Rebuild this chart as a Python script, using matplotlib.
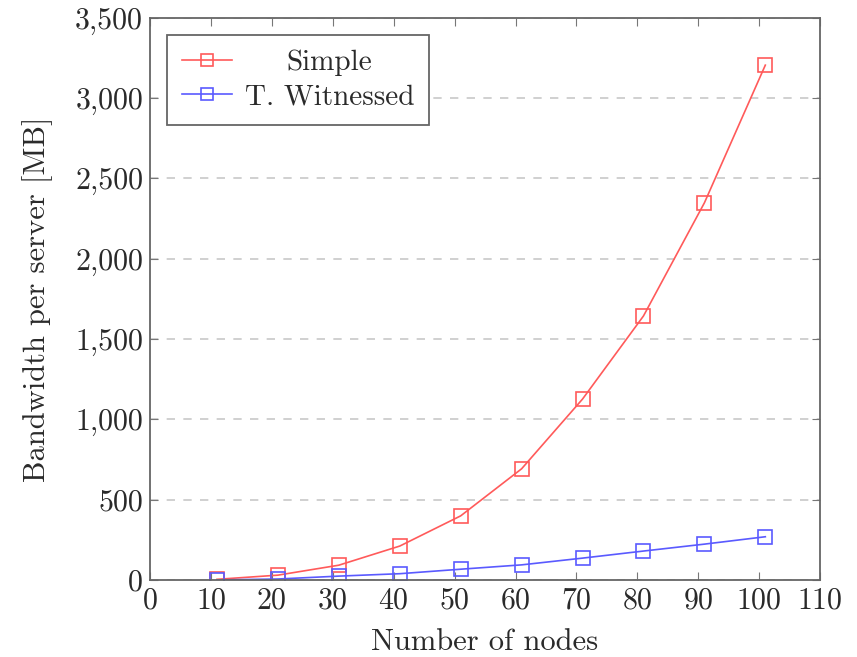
import numpy as np
import matplotlib
matplotlib.use('Agg')
import matplotlib.pyplot as plt

plt.rcParams['font.family'] = 'serif'
plt.rcParams['font.serif'] = ['cmr10']
plt.rcParams['axes.formatter.use_mathtext'] = True
plt.rcParams['axes.unicode_minus'] = False

# data
nodes = [11, 21, 31, 41, 51, 61, 71, 81, 91, 101]
simple = [5, 31, 93, 212, 400, 693, 1127, 1644, 2348, 3205]
witnessed = [1, 7, 25, 40, 68, 95, 137, 181, 224, 270]

x_ticks = list(range(0, 111, 10))
y_ticks = list(range(0, 3501, 500))

fig = plt.figure(figsize=(8.57, 6.57), dpi=100)
ax = fig.add_axes([0.175, 0.117, 0.782, 0.856])

ax.plot(nodes, simple, color='#ff5a5a', lw=1.2, marker='s', ms=10,
        mfc='none', mec='#ff5a5a', mew=1.2, label='Simple')
ax.plot(nodes, witnessed, color='#5a5aff', lw=1.2, marker='s', ms=10,
        mfc='none', mec='#5a5aff', mew=1.2, label='T. Witnessed')

ax.set_xlim(0, 110)
ax.set_ylim(0, 3500)
ax.set_xticks(x_ticks)
ax.set_yticks(y_ticks)
ax.set_yticklabels(['{:,}'.format(v) for v in y_ticks])
ax.tick_params(direction='in', top=True, right=True, labelsize=21.5,
               length=6, color='#777777', labelcolor='#2a2a2a', pad=5)
for s in ax.spines.values():
    s.set_color('#666666')
    s.set_linewidth(1.3)

ax.yaxis.grid(True, ls=(0, (5, 5)), color='#c8c8c8', lw=1.2)
ax.set_axisbelow(True)

ax.set_xlabel('Number of nodes', fontsize=22, color='#2a2a2a', labelpad=10)
ax.set_ylabel('Bandwidth per server [MB]', fontsize=22, color='#2a2a2a', labelpad=16)

leg = ax.legend(loc='upper left', fontsize=21, fancybox=False,
                edgecolor='#666666', framealpha=1, borderaxespad=0.6,
                handlelength=1.7, borderpad=0.5, labelspacing=0.25,
                handletextpad=0.45, markerscale=0.85)
leg.get_frame().set_linewidth(1.3)

# centre the legend entries, pgfplots style
fig.canvas.draw()
renderer = fig.canvas.get_renderer()
widths = [t.get_window_extent(renderer).width for t in leg.get_texts()]
widest = max(widths)
for t, w in zip(leg.get_texts(), widths):
    t.set_color('#2a2a2a')
    t.set_position(((widest - w) / 2, 0))

fig.savefig('out.png', dpi=100)
